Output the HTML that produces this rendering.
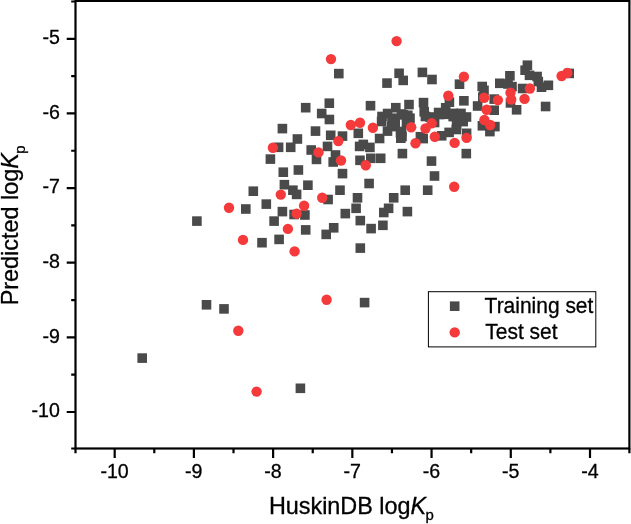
<!DOCTYPE html>
<html><head><meta charset="utf-8"><title>plot</title>
<style>html,body{margin:0;padding:0;background:#fff}svg{display:block}text{font-family:"Liberation Sans",Arial,sans-serif;fill:#000;stroke:#000;stroke-width:0.3px}</style></head><body>
<svg width="631" height="524" viewBox="0 0 631 524">
<rect width="631" height="524" fill="#fff"/>
<rect x="75.5" y="0.9" width="553.9" height="447.6" fill="none" stroke="#000" stroke-width="2.2"/>
<path d="M75.50 448.5 v4.8 M114.68 448.5 v9.6 M154.29 448.5 v4.8 M193.90 448.5 v9.6 M233.51 448.5 v4.8 M273.12 448.5 v9.6 M312.73 448.5 v4.8 M352.34 448.5 v9.6 M391.95 448.5 v4.8 M431.56 448.5 v9.6 M471.17 448.5 v4.8 M510.78 448.5 v9.6 M550.39 448.5 v4.8 M590.00 448.5 v9.6 M629.40 448.5 v4.8 M75.5 448.50 h-4.3 M75.5 412.00 h-8.8 M75.5 374.68 h-4.3 M75.5 337.36 h-8.8 M75.5 300.04 h-4.3 M75.5 262.72 h-8.8 M75.5 225.40 h-4.3 M75.5 188.08 h-8.8 M75.5 150.76 h-4.3 M75.5 113.44 h-8.8 M75.5 76.12 h-4.3 M75.5 38.80 h-8.8 M75.5 1.48 h-4.3" stroke="#000" stroke-width="2.2" fill="none"/>
<g font-size="19.6">
<text x="114.6" y="478.4" text-anchor="middle">-10</text>
<text x="193.8" y="478.4" text-anchor="middle">-9</text>
<text x="273.0" y="478.4" text-anchor="middle">-8</text>
<text x="352.2" y="478.4" text-anchor="middle">-7</text>
<text x="431.5" y="478.4" text-anchor="middle">-6</text>
<text x="510.7" y="478.4" text-anchor="middle">-5</text>
<text x="589.9" y="478.4" text-anchor="middle">-4</text>
<text x="59.9" y="417.3" text-anchor="end">-10</text>
<text x="59.9" y="342.7" text-anchor="end">-9</text>
<text x="59.9" y="268.0" text-anchor="end">-8</text>
<text x="59.9" y="193.4" text-anchor="end">-7</text>
<text x="59.9" y="118.7" text-anchor="end">-6</text>
<text x="59.9" y="44.1" text-anchor="end">-5</text>
</g>
<text transform="translate(268.9,513.5) scale(1.017,1)" font-size="23">HuskinDB log<tspan font-style="italic">K</tspan><tspan font-size="14.7" dx="-0.6" dy="6.6">p</tspan></text>
<text transform="translate(18.3,305.3) rotate(-90) scale(1.017,1)" font-size="23">Predicted log<tspan font-style="italic">K</tspan><tspan font-size="14.7" dx="-0.6" dy="6.4">p</tspan></text>
<g fill="#4a4a4a">
<rect x="277.6" y="123.8" width="9.6" height="9.6"/>
<rect x="316.9" y="108.7" width="9.6" height="9.6"/>
<rect x="324.6" y="114.7" width="9.6" height="9.6"/>
<rect x="310.7" y="126.3" width="9.6" height="9.6"/>
<rect x="325.9" y="130.5" width="9.6" height="9.6"/>
<rect x="292.6" y="134.2" width="9.6" height="9.6"/>
<rect x="273.8" y="142.5" width="9.6" height="9.6"/>
<rect x="285.9" y="142.5" width="9.6" height="9.6"/>
<rect x="306.4" y="145.2" width="9.6" height="9.6"/>
<rect x="322.7" y="141.6" width="9.6" height="9.6"/>
<rect x="265.6" y="154.3" width="9.6" height="9.6"/>
<rect x="311.7" y="154.6" width="9.6" height="9.6"/>
<rect x="328.4" y="157.2" width="9.6" height="9.6"/>
<rect x="330.7" y="150.2" width="9.6" height="9.6"/>
<rect x="278.5" y="167.4" width="9.6" height="9.6"/>
<rect x="293.6" y="165.2" width="9.6" height="9.6"/>
<rect x="279.6" y="179.9" width="9.6" height="9.6"/>
<rect x="303.1" y="180.4" width="9.6" height="9.6"/>
<rect x="248.5" y="186.4" width="9.6" height="9.6"/>
<rect x="288.1" y="185.4" width="9.6" height="9.6"/>
<rect x="291.8" y="189.6" width="9.6" height="9.6"/>
<rect x="323.3" y="194.7" width="9.6" height="9.6"/>
<rect x="337.7" y="131.3" width="9.6" height="9.6"/>
<rect x="353.5" y="128.5" width="9.6" height="9.6"/>
<rect x="358.5" y="139.6" width="9.6" height="9.6"/>
<rect x="354.8" y="141.6" width="9.6" height="9.6"/>
<rect x="365.1" y="142.6" width="9.6" height="9.6"/>
<rect x="374.8" y="133.7" width="9.6" height="9.6"/>
<rect x="382.7" y="126.3" width="9.6" height="9.6"/>
<rect x="355.2" y="155.5" width="9.6" height="9.6"/>
<rect x="366.0" y="153.5" width="9.6" height="9.6"/>
<rect x="375.9" y="153.5" width="9.6" height="9.6"/>
<rect x="397.6" y="148.8" width="9.6" height="9.6"/>
<rect x="337.7" y="168.8" width="9.6" height="9.6"/>
<rect x="364.3" y="178.7" width="9.6" height="9.6"/>
<rect x="335.2" y="185.4" width="9.6" height="9.6"/>
<rect x="352.7" y="193.0" width="9.6" height="9.6"/>
<rect x="388.9" y="193.0" width="9.6" height="9.6"/>
<rect x="400.4" y="185.4" width="9.6" height="9.6"/>
<rect x="422.9" y="185.4" width="9.6" height="9.6"/>
<rect x="426.7" y="156.3" width="9.6" height="9.6"/>
<rect x="429.7" y="171.2" width="9.6" height="9.6"/>
<rect x="334.0" y="68.8" width="9.6" height="9.6"/>
<rect x="324.5" y="98.4" width="9.6" height="9.6"/>
<rect x="300.9" y="102.9" width="9.6" height="9.6"/>
<rect x="382.2" y="78.3" width="9.6" height="9.6"/>
<rect x="394.3" y="68.5" width="9.6" height="9.6"/>
<rect x="398.4" y="75.6" width="9.6" height="9.6"/>
<rect x="417.6" y="67.6" width="9.6" height="9.6"/>
<rect x="427.2" y="74.7" width="9.6" height="9.6"/>
<rect x="365.7" y="100.9" width="9.6" height="9.6"/>
<rect x="391.0" y="102.9" width="9.6" height="9.6"/>
<rect x="404.2" y="99.8" width="9.6" height="9.6"/>
<rect x="418.7" y="97.8" width="9.6" height="9.6"/>
<rect x="377.2" y="111.7" width="9.6" height="9.6"/>
<rect x="382.8" y="108.7" width="9.6" height="9.6"/>
<rect x="387.2" y="115.5" width="9.6" height="9.6"/>
<rect x="396.7" y="109.2" width="9.6" height="9.6"/>
<rect x="403.0" y="110.5" width="9.6" height="9.6"/>
<rect x="419.4" y="107.0" width="9.6" height="9.6"/>
<rect x="420.6" y="111.7" width="9.6" height="9.6"/>
<rect x="433.8" y="107.7" width="9.6" height="9.6"/>
<rect x="440.9" y="103.0" width="9.6" height="9.6"/>
<rect x="429.8" y="117.7" width="9.6" height="9.6"/>
<rect x="395.7" y="128.2" width="9.6" height="9.6"/>
<rect x="397.2" y="131.7" width="9.6" height="9.6"/>
<rect x="415.6" y="131.9" width="9.6" height="9.6"/>
<rect x="390.4" y="119.3" width="9.6" height="9.6"/>
<rect x="401.7" y="118.0" width="9.6" height="9.6"/>
<rect x="454.7" y="79.4" width="9.6" height="9.6"/>
<rect x="459.1" y="96.0" width="9.6" height="9.6"/>
<rect x="477.4" y="81.7" width="9.6" height="9.6"/>
<rect x="479.2" y="85.5" width="9.6" height="9.6"/>
<rect x="495.0" y="78.5" width="9.6" height="9.6"/>
<rect x="505.1" y="71.0" width="9.6" height="9.6"/>
<rect x="503.2" y="79.2" width="9.6" height="9.6"/>
<rect x="444.6" y="97.4" width="9.6" height="9.6"/>
<rect x="472.8" y="101.2" width="9.6" height="9.6"/>
<rect x="489.4" y="94.3" width="9.6" height="9.6"/>
<rect x="489.4" y="105.4" width="9.6" height="9.6"/>
<rect x="505.7" y="98.1" width="9.6" height="9.6"/>
<rect x="511.8" y="105.0" width="9.6" height="9.6"/>
<rect x="451.7" y="111.2" width="9.6" height="9.6"/>
<rect x="461.7" y="112.2" width="9.6" height="9.6"/>
<rect x="451.8" y="120.2" width="9.6" height="9.6"/>
<rect x="444.3" y="127.6" width="9.6" height="9.6"/>
<rect x="436.9" y="131.0" width="9.6" height="9.6"/>
<rect x="461.8" y="128.5" width="9.6" height="9.6"/>
<rect x="477.6" y="121.0" width="9.6" height="9.6"/>
<rect x="490.1" y="121.8" width="9.6" height="9.6"/>
<rect x="485.1" y="126.8" width="9.6" height="9.6"/>
<rect x="461.5" y="148.8" width="9.6" height="9.6"/>
<rect x="478.0" y="92.4" width="9.6" height="9.6"/>
<rect x="522.6" y="60.4" width="9.6" height="9.6"/>
<rect x="520.3" y="65.4" width="9.6" height="9.6"/>
<rect x="524.7" y="70.5" width="9.6" height="9.6"/>
<rect x="532.3" y="71.7" width="9.6" height="9.6"/>
<rect x="543.6" y="80.5" width="9.6" height="9.6"/>
<rect x="536.7" y="82.4" width="9.6" height="9.6"/>
<rect x="517.8" y="83.7" width="9.6" height="9.6"/>
<rect x="507.2" y="81.8" width="9.6" height="9.6"/>
<rect x="564.4" y="68.6" width="9.6" height="9.6"/>
<rect x="540.8" y="101.7" width="9.6" height="9.6"/>
<rect x="533.5" y="76.8" width="9.6" height="9.6"/>
<rect x="192.1" y="216.3" width="9.6" height="9.6"/>
<rect x="241.0" y="204.2" width="9.6" height="9.6"/>
<rect x="261.5" y="199.3" width="9.6" height="9.6"/>
<rect x="277.6" y="206.8" width="9.6" height="9.6"/>
<rect x="269.3" y="216.3" width="9.6" height="9.6"/>
<rect x="274.3" y="234.6" width="9.6" height="9.6"/>
<rect x="257.2" y="237.9" width="9.6" height="9.6"/>
<rect x="289.3" y="209.7" width="9.6" height="9.6"/>
<rect x="300.1" y="210.2" width="9.6" height="9.6"/>
<rect x="300.9" y="225.1" width="9.6" height="9.6"/>
<rect x="321.4" y="229.6" width="9.6" height="9.6"/>
<rect x="328.9" y="223.0" width="9.6" height="9.6"/>
<rect x="351.3" y="203.5" width="9.6" height="9.6"/>
<rect x="340.5" y="208.8" width="9.6" height="9.6"/>
<rect x="383.8" y="203.5" width="9.6" height="9.6"/>
<rect x="379.0" y="207.7" width="9.6" height="9.6"/>
<rect x="402.6" y="206.8" width="9.6" height="9.6"/>
<rect x="355.5" y="215.8" width="9.6" height="9.6"/>
<rect x="378.1" y="220.5" width="9.6" height="9.6"/>
<rect x="366.3" y="223.8" width="9.6" height="9.6"/>
<rect x="355.5" y="243.3" width="9.6" height="9.6"/>
<rect x="390.2" y="113.4" width="9.6" height="9.6"/>
<rect x="398.5" y="110.1" width="9.6" height="9.6"/>
<rect x="405.2" y="113.4" width="9.6" height="9.6"/>
<rect x="386.8" y="121.8" width="9.6" height="9.6"/>
<rect x="396.8" y="126.7" width="9.6" height="9.6"/>
<rect x="396.0" y="133.4" width="9.6" height="9.6"/>
<rect x="440.1" y="109.5" width="9.6" height="9.6"/>
<rect x="448.4" y="111.8" width="9.6" height="9.6"/>
<rect x="458.4" y="113.4" width="9.6" height="9.6"/>
<rect x="451.5" y="124.7" width="9.6" height="9.6"/>
<rect x="458.4" y="116.8" width="9.6" height="9.6"/>
<rect x="448.4" y="108.6" width="9.6" height="9.6"/>
<rect x="434.7" y="109.7" width="9.6" height="9.6"/>
<rect x="456.2" y="108.6" width="9.6" height="9.6"/>
<rect x="376.8" y="116.7" width="9.6" height="9.6"/>
<rect x="418.4" y="133.8" width="9.6" height="9.6"/>
<rect x="425.2" y="112.2" width="9.6" height="9.6"/>
<rect x="201.7" y="300.0" width="9.6" height="9.6"/>
<rect x="219.2" y="304.1" width="9.6" height="9.6"/>
<rect x="137.4" y="353.3" width="9.6" height="9.6"/>
<rect x="359.8" y="297.8" width="9.6" height="9.6"/>
<rect x="295.6" y="383.5" width="9.6" height="9.6"/>
</g>
<g fill="#f53a3c">
<circle cx="272.9" cy="147.8" r="5.2"/>
<circle cx="318.5" cy="152.4" r="5.2"/>
<circle cx="338.3" cy="141.1" r="5.2"/>
<circle cx="341.0" cy="160.5" r="5.2"/>
<circle cx="280.8" cy="194.6" r="5.2"/>
<circle cx="322.2" cy="197.8" r="5.2"/>
<circle cx="350.8" cy="125.0" r="5.2"/>
<circle cx="360.0" cy="122.8" r="5.2"/>
<circle cx="372.9" cy="127.8" r="5.2"/>
<circle cx="365.8" cy="165.2" r="5.2"/>
<circle cx="411.2" cy="127.3" r="5.2"/>
<circle cx="415.5" cy="143.3" r="5.2"/>
<circle cx="425.5" cy="128.5" r="5.2"/>
<circle cx="431.7" cy="123.2" r="5.2"/>
<circle cx="434.8" cy="136.7" r="5.2"/>
<circle cx="331.0" cy="59.1" r="5.2"/>
<circle cx="396.6" cy="41.1" r="5.2"/>
<circle cx="448.3" cy="95.8" r="5.2"/>
<circle cx="463.9" cy="76.7" r="5.2"/>
<circle cx="484.1" cy="97.8" r="5.2"/>
<circle cx="497.9" cy="100.1" r="5.2"/>
<circle cx="510.5" cy="92.8" r="5.2"/>
<circle cx="511.2" cy="99.5" r="5.2"/>
<circle cx="486.6" cy="109.7" r="5.2"/>
<circle cx="484.4" cy="120.0" r="5.2"/>
<circle cx="490.2" cy="125.0" r="5.2"/>
<circle cx="466.6" cy="137.9" r="5.2"/>
<circle cx="454.6" cy="142.9" r="5.2"/>
<circle cx="454.2" cy="186.8" r="5.2"/>
<circle cx="561.6" cy="76.0" r="5.2"/>
<circle cx="567.3" cy="73.0" r="5.2"/>
<circle cx="529.9" cy="88.5" r="5.2"/>
<circle cx="524.5" cy="98.9" r="5.2"/>
<circle cx="229.0" cy="207.8" r="5.2"/>
<circle cx="304.1" cy="205.8" r="5.2"/>
<circle cx="296.6" cy="213.6" r="5.2"/>
<circle cx="287.9" cy="228.9" r="5.2"/>
<circle cx="243.0" cy="239.9" r="5.2"/>
<circle cx="294.6" cy="251.4" r="5.2"/>
<circle cx="238.3" cy="330.7" r="5.2"/>
<circle cx="326.6" cy="299.8" r="5.2"/>
<circle cx="256.6" cy="391.6" r="5.2"/>
</g>
<rect x="428.4" y="291.7" width="167.4" height="55.2" fill="#fff" stroke="#000" stroke-width="1"/>
<rect x="449.9" y="301.4" width="9.6" height="9.6" fill="#4a4a4a"/>
<circle cx="454.7" cy="332.4" r="5.2" fill="#f53a3c"/>
<text transform="translate(484.6,313) scale(0.985,1)" font-size="21.3">Training set</text>
<text transform="translate(485.3,339.3) scale(0.985,1)" font-size="21.3">Test set</text>
</svg></body></html>
